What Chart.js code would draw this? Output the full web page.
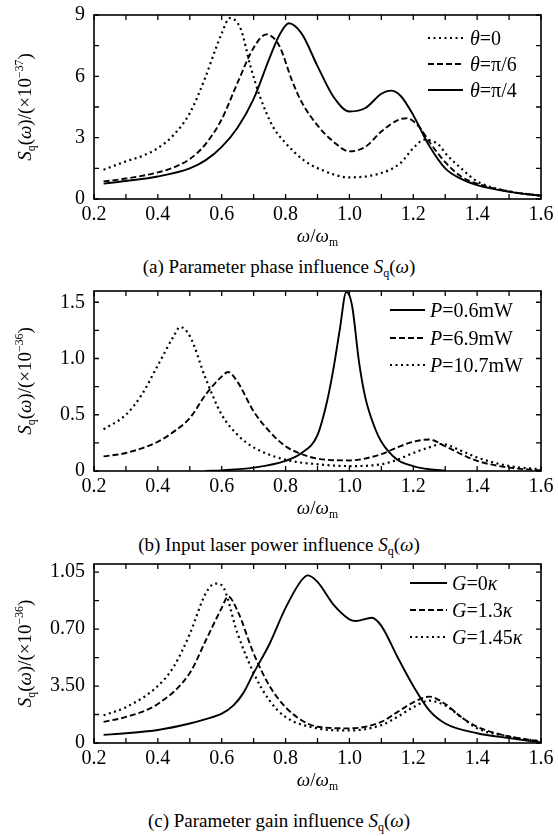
<!DOCTYPE html>
<html>
<head>
<meta charset="utf-8">
<title>Squeezing spectra</title>
<style>
  html, body { margin: 0; padding: 0; background: #fff; }
  body { width: 558px; height: 836px; position: relative; overflow: hidden; font-family: "Liberation Serif", serif; }
  .panel { position: absolute; left: 0; width: 558px; height: 256px; }
  .caption { position: absolute; left: 0; width: 558px; text-align: center; font-size: 19px; line-height: 22px; color: #000; }
  .caption sub { font-size: 12px; vertical-align: -4px; line-height: 0; }
</style>
<script src="https://cdn.jsdelivr.net/npm/chart.js@4.4.1/dist/chart.umd.min.js"></script>
</head>
<body>
<div class="panel" style="top:0px"><canvas id="chartA"></canvas></div>
<div class="caption" style="top:256px">(a) Parameter phase influence <i>S</i><sub>q</sub>(<i>ω</i>)</div>
<div class="panel" style="top:278px"><canvas id="chartB"></canvas></div>
<div class="caption" style="top:534px">(b) Input laser power influence <i>S</i><sub>q</sub>(<i>ω</i>)</div>
<div class="panel" style="top:552px"><canvas id="chartC"></canvas></div>
<div class="caption" style="top:810px">(c) Parameter gain influence <i>S</i><sub>q</sub>(<i>ω</i>)</div>

<script>
// ---------- data ----------
var xTickValues = [0.2, 0.4, 0.6, 0.8, 1.0, 1.2, 1.4, 1.6];
var xTickLabels = ['0.2', '0.4', '0.6', '0.8', '1.0', '1.2', '1.4', '1.6'];

// (a) phase
var yTicksA = [0, 3, 6, 9];
var yLabelsA = ['0', '3', '6', '9'];
var labelsA = ['θ=0', 'θ=π/6', 'θ=π/4'];
var wTheta0 = [0.23, 0.3, 0.35, 0.4, 0.45, 0.5, 0.55, 0.58, 0.6, 0.625, 0.66, 0.69, 0.72, 0.76, 0.8, 0.855, 0.9, 1.0, 1.1, 1.16, 1.2, 1.235, 1.28, 1.3, 1.355, 1.4, 1.5, 1.6];
var sTheta0 = [1.43, 1.84, 2.1, 2.49, 3.14, 4.2, 6.0, 7.3, 8.1, 8.85, 8.3, 6.5, 5.0, 3.55, 2.74, 1.92, 1.51, 1.06, 1.27, 1.76, 2.49, 2.9, 2.65, 2.25, 1.43, 0.86, 0.37, 0.16];
var wTheta6 = [0.23, 0.3, 0.4, 0.45, 0.5, 0.55, 0.6, 0.65, 0.7, 0.74, 0.78, 0.82, 0.85, 0.9, 0.95, 1.0, 1.05, 1.1, 1.15, 1.18, 1.22, 1.25, 1.3, 1.35, 1.4, 1.5, 1.6];
var sTheta6 = [0.86, 1.0, 1.3, 1.55, 1.95, 2.7, 3.9, 5.7, 7.4, 8.05, 7.5, 5.8, 4.75, 3.6, 2.8, 2.33, 2.55, 3.3, 3.85, 3.95, 3.5, 2.8, 1.8, 1.1, 0.75, 0.37, 0.16];
var wTheta4 = [0.23, 0.3, 0.4, 0.5, 0.55, 0.6, 0.65, 0.7, 0.75, 0.78, 0.81, 0.85, 0.9, 0.95, 1.0, 1.05, 1.1, 1.13, 1.16, 1.2, 1.25, 1.3, 1.35, 1.4, 1.5, 1.6];
var sTheta4 = [0.75, 0.88, 1.1, 1.5, 1.9, 2.55, 3.5, 4.9, 6.9, 8.0, 8.6, 8.1, 6.5, 5.0, 4.28, 4.45, 5.15, 5.3, 5.05, 4.1, 2.6, 1.5, 0.98, 0.68, 0.35, 0.16];

// (b) laser power
var yTicksB = [0, 0.5, 1.0, 1.5];
var yLabelsB = ['0', '0.5', '1.0', '1.5'];
var labelsB = ['P=0.6mW', 'P=6.9mW', 'P=10.7mW'];
var wP06 = [0.55, 0.6, 0.7, 0.8, 0.85, 0.9, 0.93, 0.95, 0.97, 0.99, 1.0, 1.01, 1.03, 1.05, 1.08, 1.1, 1.15, 1.2, 1.25, 1.3];
var sP06 = [0.0, 0.006, 0.03, 0.09, 0.16, 0.32, 0.62, 0.91, 1.26, 1.59, 1.56, 1.44, 0.97, 0.65, 0.38, 0.26, 0.10, 0.044, 0.015, 0.003];
var wP69 = [0.23, 0.3, 0.4, 0.45, 0.5, 0.55, 0.6, 0.62, 0.65, 0.7, 0.75, 0.8, 0.85, 0.9, 1.0, 1.1, 1.15, 1.2, 1.25, 1.3, 1.35, 1.4, 1.5, 1.6];
var sP69 = [0.13, 0.16, 0.26, 0.35, 0.47, 0.68, 0.84, 0.88, 0.79, 0.53, 0.35, 0.22, 0.15, 0.11, 0.094, 0.15, 0.21, 0.26, 0.28, 0.22, 0.15, 0.09, 0.03, 0.006];
var wP107 = [0.23, 0.3, 0.35, 0.4, 0.45, 0.47, 0.5, 0.55, 0.6, 0.65, 0.7, 0.8, 0.9, 1.0, 1.1, 1.15, 1.2, 1.25, 1.29, 1.35, 1.4, 1.5, 1.6];
var sP107 = [0.37, 0.5, 0.68, 0.94, 1.2, 1.28, 1.2, 0.82, 0.5, 0.32, 0.21, 0.10, 0.06, 0.044, 0.06, 0.10, 0.16, 0.21, 0.24, 0.18, 0.12, 0.044, 0.015];

// (c) gain
var yTicksC = [0, 0.35, 0.70, 1.05];
var yLabelsC = ['0', '3.50', '0.70', '1.05'];
var labelsC = ['G=0κ', 'G=1.3κ', 'G=1.45κ'];
var wG0 = [0.23, 0.3, 0.4, 0.5, 0.55, 0.6, 0.636, 0.667, 0.7, 0.75, 0.8, 0.85, 0.87, 0.9, 0.95, 1.0, 1.02, 1.07, 1.1, 1.15, 1.2, 1.25, 1.3, 1.4, 1.5, 1.6];
var sG0 = [0.05, 0.06, 0.08, 0.12, 0.147, 0.18, 0.23, 0.305, 0.43, 0.61, 0.83, 1.0, 1.03, 0.99, 0.85, 0.76, 0.75, 0.77, 0.72, 0.53, 0.35, 0.20, 0.12, 0.06, 0.03, 0.004];
var wG13 = [0.23, 0.3, 0.4, 0.5, 0.55, 0.6, 0.62, 0.65, 0.7, 0.75, 0.8, 0.85, 0.9, 1.0, 1.1, 1.15, 1.2, 1.25, 1.3, 1.35, 1.4, 1.5, 1.6];
var sG13 = [0.13, 0.16, 0.24, 0.43, 0.63, 0.83, 0.90, 0.81, 0.55, 0.35, 0.22, 0.14, 0.10, 0.09, 0.13, 0.19, 0.25, 0.285, 0.24, 0.16, 0.10, 0.04, 0.01];
var wG145 = [0.23, 0.3, 0.4, 0.45, 0.5, 0.55, 0.58, 0.6, 0.65, 0.7, 0.75, 0.8, 0.9, 1.0, 1.1, 1.15, 1.2, 1.25, 1.3, 1.35, 1.4, 1.5, 1.6];
var sG145 = [0.17, 0.22, 0.35, 0.47, 0.67, 0.92, 0.98, 0.97, 0.67, 0.43, 0.26, 0.16, 0.09, 0.077, 0.11, 0.16, 0.22, 0.26, 0.23, 0.16, 0.09, 0.04, 0.01];

// ---------- drawing helpers ----------
var FONT = '"Liberation Serif", "Times New Roman", serif';
var SOLID = [], DASHED = [6, 3], DOTTED = [2, 3.5];

// draws a run of text pieces, some italic / sub / sup
function drawRich(ctx, segs, x, y, size, align) {
  var parts = segs.map(function (s) {
    var fs = (s.sub || s.sup) ? size * 0.62 : size;
    var f = (s.i ? 'italic ' : '') + fs + 'px ' + FONT;
    ctx.font = f;
    return { t: s.t, f: f, w: ctx.measureText(s.t).width, dy: s.sub ? size * 0.22 : s.sup ? -size * 0.42 : 0 };
  });
  var total = parts.reduce(function (a, p) { return a + p.w; }, 0);
  var cx = align === 'center' ? x - total / 2 : x;
  ctx.textAlign = 'left';
  ctx.textBaseline = 'alphabetic';
  parts.forEach(function (p) {
    ctx.font = p.f;
    ctx.fillText(p.t, cx, y + p.dy);
    cx += p.w;
  });
}

// split "θ=0" style labels into italic symbol + rest
function legendSegs(label) {
  var segs = [{ t: label.charAt(0), i: 1 }];
  var rest = label.slice(1);
  if (rest.slice(-1) === 'κ') {
    segs.push({ t: rest.slice(0, -1) });
    segs.push({ t: 'κ', i: 1 });
  } else {
    segs.push({ t: rest });
  }
  return segs;
}

function midpoints(vals) {
  var out = vals.slice();
  for (var i = 0; i < vals.length - 1; i++) out.push((vals[i] + vals[i + 1]) / 2);
  return out;
}

function makeChart(id, cfg) {
  var H = 256;
  var datasets = cfg.series.map(function (s) {
    return {
      label: s.label,
      data: s.x.map(function (x, i) { return { x: x, y: s.y[i] }; }),
      borderColor: '#000',
      borderWidth: s.dash === DOTTED ? 2.2 : 1.9,
      borderDash: s.dash,
      borderCapStyle: 'butt',
      pointRadius: 0,
      fill: false,
      cubicInterpolationMode: 'monotone'
    };
  });

  var deco = {
    id: 'deco' + id,
    afterDraw: function (chart) {
      var ctx = chart.ctx, a = chart.chartArea;
      var sx = chart.scales.x, sy = chart.scales.y;
      ctx.save();
      ctx.strokeStyle = '#000';
      ctx.fillStyle = '#000';
      ctx.lineWidth = 1.6;
      ctx.setLineDash([]);
      ctx.strokeRect(a.left, a.top, a.right - a.left, a.bottom - a.top);

      // inward ticks on all four sides
      ctx.lineWidth = 1.3;
      ctx.beginPath();
      midpoints(xTickValues).forEach(function (v) {
        var p = sx.getPixelForValue(v);
        ctx.moveTo(p, a.bottom); ctx.lineTo(p, a.bottom - 5);
        ctx.moveTo(p, a.top); ctx.lineTo(p, a.top + 5);
      });
      midpoints(cfg.yTicks).forEach(function (v) {
        var p = sy.getPixelForValue(v);
        ctx.moveTo(a.left, p); ctx.lineTo(a.left + 5, p);
        ctx.moveTo(a.right, p); ctx.lineTo(a.right - 5, p);
      });
      ctx.stroke();

      // legend
      var L = cfg.legend;
      chart.data.datasets.forEach(function (ds, i) {
        var yy = a.top + L.rows[i];
        ctx.setLineDash(ds.borderDash);
        ctx.lineWidth = ds.borderWidth;
        ctx.beginPath();
        ctx.moveTo(L.x1, yy); ctx.lineTo(L.x2, yy);
        ctx.stroke();
        ctx.setLineDash([]);
        drawRich(ctx, legendSegs(ds.label), L.tx, yy + 7, 20, 'left');
      });

      // axis titles
      drawRich(ctx, [{ t: 'ω', i: 1 }, { t: '/' }, { t: 'ω', i: 1 }, { t: 'm', sub: 1 }],
        (a.left + a.right) / 2, a.bottom + 43, 19, 'center');
      ctx.translate(31, (a.top + a.bottom) / 2);
      ctx.rotate(-Math.PI / 2);
      drawRich(ctx, [{ t: 'S', i: 1 }, { t: 'q', sub: 1 }, { t: '(' }, { t: 'ω', i: 1 },
        { t: ')/(×10' }, { t: cfg.yExp, sup: 1 }, { t: ')' }], 0, 0, 19, 'center');
      ctx.restore();
    }
  };

  return new Chart(document.getElementById(id), {
    type: 'line',
    data: { datasets: datasets },
    plugins: [deco],
    options: {
      responsive: true,
      maintainAspectRatio: false,
      animation: false,
      layout: { padding: { left: 0, right: 17, top: cfg.top, bottom: 0 } },
      plugins: { legend: { display: false }, tooltip: { enabled: false } },
      scales: {
        x: {
          type: 'linear', min: 0.2, max: 1.6,
          grid: { display: false, drawTicks: false },
          border: { display: false },
          afterBuildTicks: function (s) { s.ticks = xTickValues.map(function (v) { return { value: v }; }); },
          afterFit: function (s) { s.height = H - cfg.bottom; s.paddingLeft = 0; s.paddingRight = 0; },
          ticks: {
            autoSkip: false, maxRotation: 0, padding: 5, color: '#000',
            font: { family: FONT, size: 20, lineHeight: 1.1 },
            callback: function (v, i) { return xTickLabels[i]; }
          }
        },
        y: {
          type: 'linear', min: 0, max: cfg.yMax,
          grid: { display: false, drawTicks: false },
          border: { display: false },
          afterBuildTicks: function (s) { s.ticks = cfg.yTicks.map(function (v) { return { value: v }; }); },
          afterFit: function (s) { s.width = 94; s.paddingTop = 0; s.paddingBottom = 0; },
          ticks: {
            padding: 9, color: '#000',
            font: { family: FONT, size: 20, lineHeight: 1.1 },
            callback: function (v, i) { return cfg.yLabels[i]; }
          }
        }
      }
    }
  });
}

makeChart('chartA', {
  top: 15, bottom: 199, yMax: 9, yTicks: yTicksA, yLabels: yLabelsA, yExp: '−37',
  legend: { x1: 428, x2: 463, tx: 470, rows: [23, 49, 75] },
  series: [
    { label: labelsA[0], x: wTheta0, y: sTheta0, dash: DOTTED },
    { label: labelsA[1], x: wTheta6, y: sTheta6, dash: DASHED },
    { label: labelsA[2], x: wTheta4, y: sTheta4, dash: SOLID }
  ]
});

makeChart('chartB', {
  top: 13, bottom: 193, yMax: 1.6, yTicks: yTicksB, yLabels: yLabelsB, yExp: '−36',
  legend: { x1: 390, x2: 425, tx: 430, rows: [19, 47, 74] },
  series: [
    { label: labelsB[0], x: wP06, y: sP06, dash: SOLID },
    { label: labelsB[1], x: wP69, y: sP69, dash: DASHED },
    { label: labelsB[2], x: wP107, y: sP107, dash: DOTTED }
  ]
});

makeChart('chartC', {
  top: 12, bottom: 191, yMax: 1.1, yTicks: yTicksC, yLabels: yLabelsC, yExp: '−36',
  legend: { x1: 410, x2: 447, tx: 452, rows: [19, 46, 73] },
  series: [
    { label: labelsC[0], x: wG0, y: sG0, dash: SOLID },
    { label: labelsC[1], x: wG13, y: sG13, dash: DASHED },
    { label: labelsC[2], x: wG145, y: sG145, dash: DOTTED }
  ]
});
</script>
</body>
</html>
